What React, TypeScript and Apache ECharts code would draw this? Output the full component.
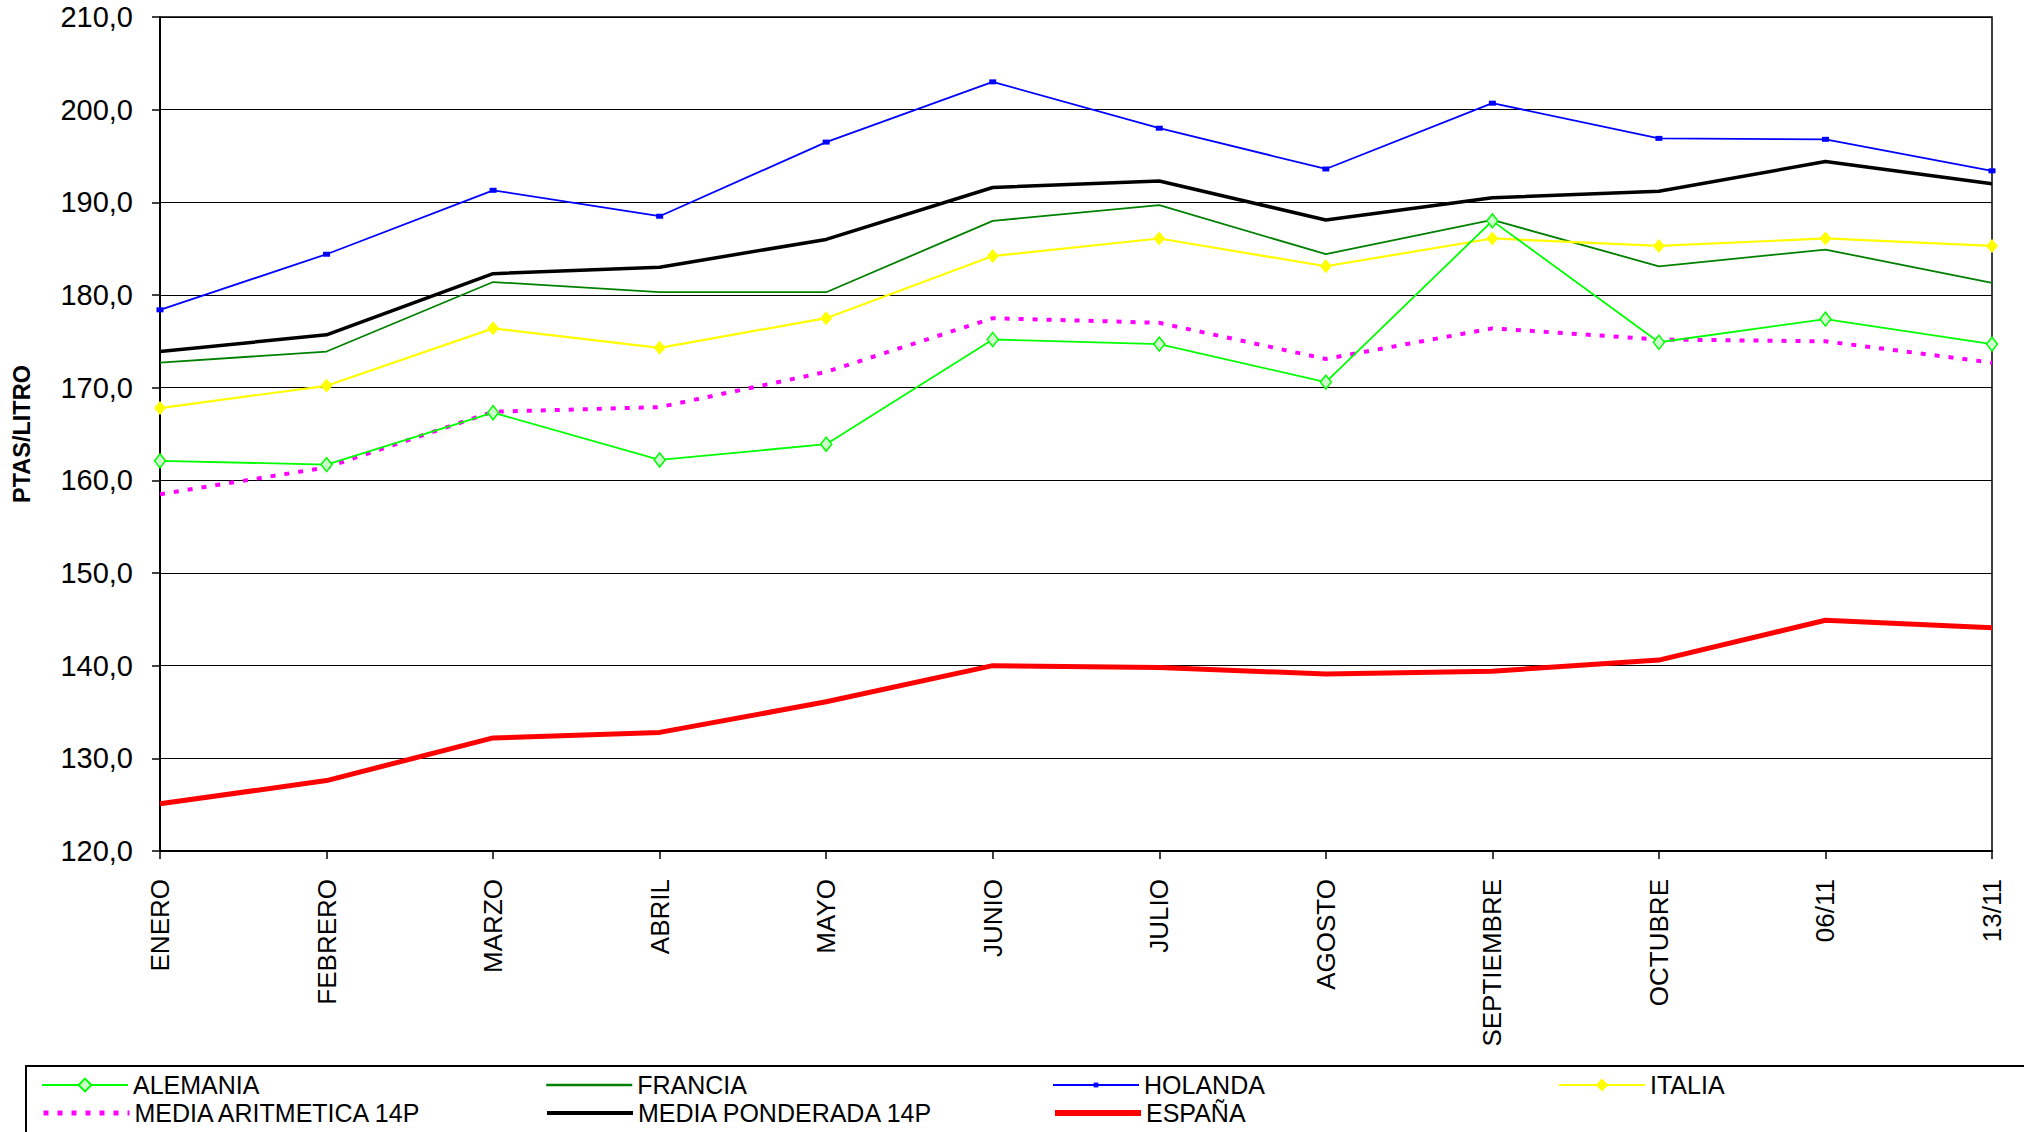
import React, { useEffect, useRef } from "react";
import * as echarts from "echarts";

const categories = ["ENERO", "FEBRERO", "MARZO", "ABRIL", "MAYO", "JUNIO", "JULIO", "AGOSTO", "SEPTIEMBRE", "OCTUBRE", "06/11", "13/11"];

const alemania = [162.1, 161.7, 167.3, 162.2, 163.9, 175.2, 174.7, 170.6, 188.0, 174.9, 177.4, 174.7];
const francia = [172.7, 173.9, 181.4, 180.3, 180.3, 188.0, 189.7, 184.4, 188.1, 183.1, 184.9, 181.3];
const holanda = [178.4, 184.4, 191.3, 188.5, 196.5, 203.0, 198.0, 193.6, 200.7, 196.9, 196.8, 193.4];
const italia = [167.8, 170.2, 176.4, 174.3, 177.5, 184.2, 186.1, 183.1, 186.1, 185.3, 186.1, 185.3];
const mediaAritmetica = [158.5, 161.4, 167.4, 167.9, 171.7, 177.5, 177.0, 173.1, 176.4, 175.2, 175.0, 172.7];
const mediaPonderada = [173.9, 175.7, 182.3, 183.0, 186.0, 191.6, 192.3, 188.1, 190.5, 191.2, 194.4, 192.0];
const espana = [125.1, 127.6, 132.2, 132.8, 136.1, 140.0, 139.8, 139.1, 139.4, 140.6, 144.9, 144.1];

const seriesNames = ["ALEMANIA", "FRANCIA", "HOLANDA", "ITALIA", "MEDIA ARITMETICA 14P", "MEDIA PONDERADA 14P", "ESPAÑA"];

const AXIS_FONT = "'Liberation Sans', Arial, sans-serif";
const LEGEND_FONT = "'Liberation Sans', Arial, sans-serif";

export default function App() {
  const ref = useRef<HTMLDivElement>(null);

  useEffect(() => {
    if (!ref.current) return;
    const chart = echarts.init(ref.current, null, { renderer: "svg" });

    const legendCols = [41, 545, 1052, 1558];
    const legendRows = [1085, 1113];
    const legendIconHeight: Record<string, number> = { ALEMANIA: 16, ITALIA: 16, HOLANDA: 6 };
    const legendLineWidth: Record<string, number> = {
      ALEMANIA: 2,
      FRANCIA: 2.5,
      HOLANDA: 2,
      ITALIA: 2,
      "MEDIA ARITMETICA 14P": 5,
      "MEDIA PONDERADA 14P": 4,
      "ESPAÑA": 6,
    };
    const legends = seriesNames.map((name, i) => {
      const hasSymbol = name in legendIconHeight;
      return {
        data: [hasSymbol ? { name } : { name, itemStyle: { opacity: 0 } }],
        left: legendCols[i % 4],
        top: legendRows[Math.floor(i / 4)] - 14,
        padding: 0,
        itemWidth: 86,
        itemHeight: hasSymbol ? legendIconHeight[name] : 14,
        selectedMode: false,
        lineStyle: { width: legendLineWidth[name] },
        textStyle: { fontFamily: LEGEND_FONT, fontSize: 25, color: "#000", lineHeight: 28 },
      };
    });

    chart.setOption({
      animation: false,
      backgroundColor: "#fff",
      legend: legends,
      grid: {
        left: 160,
        right: 32,
        top: 17,
        bottom: 281,
        show: true,
        borderColor: "#000",
        borderWidth: 1.5,
        backgroundColor: "transparent",
      },
      graphic: [
        {
          type: "rect",
          shape: { x: 26, y: 1066, width: 2100, height: 200 },
          style: { fill: "none", stroke: "#000", lineWidth: 2 },
          silent: true,
        },
      ],
      xAxis: {
        type: "category",
        data: categories,
        boundaryGap: false,
        axisLine: { lineStyle: { color: "#000", width: 2 } },
        axisTick: { show: true, length: 8, lineStyle: { color: "#000", width: 1.5 } },
        axisLabel: {
          rotate: 90,
          margin: 28,
          color: "#000",
          fontSize: 26,
          fontFamily: AXIS_FONT,
          interval: 0,
        },
        splitLine: { show: false },
      },
      yAxis: {
        type: "value",
        min: 120,
        max: 210,
        interval: 10,
        name: "PTAS/LITRO",
        nameLocation: "middle",
        nameRotate: 90,
        nameGap: 126,
        nameTextStyle: { fontFamily: AXIS_FONT, fontSize: 23.5, fontWeight: "bold", color: "#000" },
        axisLine: { show: true, lineStyle: { color: "#000", width: 2 } },
        axisTick: { show: true, length: 8, lineStyle: { color: "#000", width: 1.5 } },
        axisLabel: {
          margin: 27,
          color: "#000",
          fontSize: 29,
          fontFamily: AXIS_FONT,
          formatter: (v: number) => v.toFixed(1).replace(".", ","),
        },
        splitLine: { show: true, lineStyle: { color: "#000", width: 1.2 } },
      },
      series: [
        {
          name: "ALEMANIA",
          type: "line",
          data: alemania,
          symbol: "diamond",
          symbolSize: [11, 14],
          itemStyle: { color: "#ccffcc", borderColor: "#00ff00", borderWidth: 1.5 },
          lineStyle: { color: "#00ff00", width: 1.8 },
          z: 3,
        },
        {
          name: "FRANCIA",
          type: "line",
          data: francia,
          symbol: "none",
          itemStyle: { color: "#008000" },
          lineStyle: { color: "#008000", width: 1.8 },
          z: 2,
        },
        {
          name: "HOLANDA",
          type: "line",
          data: holanda,
          symbol: "rect",
          symbolSize: [7, 5],
          itemStyle: { color: "#0000ff" },
          lineStyle: { color: "#0000ff", width: 1.8 },
          z: 2,
        },
        {
          name: "ITALIA",
          type: "line",
          data: italia,
          symbol: "diamond",
          symbolSize: [12, 14],
          itemStyle: { color: "#ffff00" },
          lineStyle: { color: "#ffff00", width: 2.2 },
          z: 2,
        },
        {
          name: "MEDIA ARITMETICA 14P",
          type: "line",
          data: mediaAritmetica,
          symbol: "none",
          itemStyle: { color: "#ff00ff" },
          lineStyle: { color: "#ff00ff", width: 4, type: [5, 9], cap: "butt" },
          z: 2,
        },
        {
          name: "MEDIA PONDERADA 14P",
          type: "line",
          data: mediaPonderada,
          symbol: "none",
          itemStyle: { color: "#000000" },
          lineStyle: { color: "#000000", width: 3.5 },
          z: 2,
        },
        {
          name: "ESPAÑA",
          type: "line",
          data: espana,
          symbol: "none",
          itemStyle: { color: "#ff0000" },
          lineStyle: { color: "#ff0000", width: 5 },
          z: 2,
        },
      ],
    });

    return () => chart.dispose();
  }, []);

  return (
    <div
      ref={ref}
      style={{ position: "absolute", left: 0, top: 0, width: 2024, height: 1132, background: "#fff" }}
    />
  );
}
